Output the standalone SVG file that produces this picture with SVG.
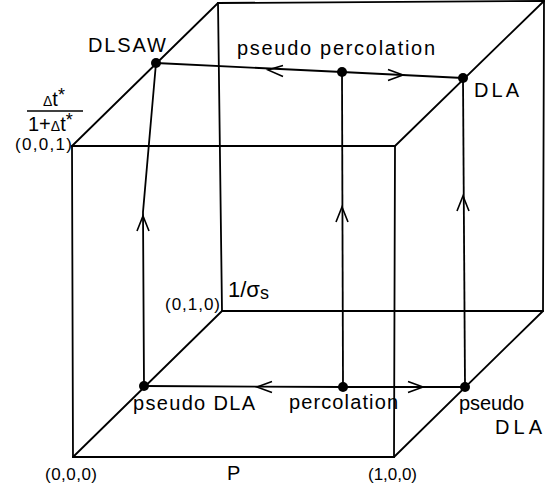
<svg xmlns="http://www.w3.org/2000/svg" width="546" height="490" viewBox="0 0 546 490">
<style>
.edge{stroke:#000;stroke-width:1.8;fill:none;stroke-linecap:round}
.flow{stroke:#000;stroke-width:1.8;fill:none}
.ah{stroke:#000;stroke-width:1.6;fill:none;stroke-linejoin:miter}
.dot{fill:#000}
text{font-family:"Liberation Sans","DejaVu Sans",sans-serif;fill:#000}
.lbl{font-size:20px}
.crd{font-size:17px}
</style>
<rect width="546" height="490" fill="#fff"/>
<g id="cube">
<line class="edge" x1="72" y1="146" x2="395" y2="146"/>
<line class="edge" x1="72" y1="146" x2="73" y2="457"/>
<line class="edge" x1="73" y1="457" x2="394" y2="457"/>
<line class="edge" x1="395" y1="146" x2="394" y2="457"/>
<line class="edge" x1="218" y1="3" x2="544" y2="1"/>
<line class="edge" x1="218" y1="3" x2="222" y2="311"/>
<line class="edge" x1="222" y1="311" x2="543" y2="311"/>
<line class="edge" x1="544" y1="1" x2="543" y2="311"/>
<line class="edge" x1="72" y1="146" x2="218" y2="3"/>
<line class="edge" x1="395" y1="146" x2="544" y2="1"/>
<line class="edge" x1="73" y1="457" x2="222" y2="311"/>
<line class="edge" x1="394" y1="457" x2="543" y2="311"/>
</g>
<g id="connectors">
<polyline class="flow" points="156,63 342,72 463,78"/>
<polyline class="flow" points="144,386 343,387 465,387"/>
<polyline class="flow" points="156,63 143,212 144,386"/>
<line class="flow" x1="342" y1="72" x2="343" y2="387"/>
<line class="flow" x1="463" y1="78" x2="465" y2="387"/>
<polyline class="ah" points="283,65.5 268,70 283,76.5"/>
<polyline class="ah" points="388,69.5 403,75 388,80.5"/>
<polyline class="ah" points="272,381.5 257,387 272,392.5"/>
<polyline class="ah" points="408,381.5 423,387 408,392.5"/>
<polyline class="ah" points="137,231 143,216 149,231"/>
<polyline class="ah" points="336,222 342,207 348,222"/>
<polyline class="ah" points="457,211 463,196 469,211"/>
</g>
<g id="node-dlsaw">
<circle class="dot" cx="156" cy="63" r="5"/>
<text class="lbl" x="88" y="52" textLength="78" lengthAdjust="spacing">DLSAW</text>
</g>
<g id="node-pseudo-percolation">
<circle class="dot" cx="342" cy="72" r="5"/>
<text class="lbl" x="237" y="55" textLength="198" lengthAdjust="spacing">pseudo percolation</text>
</g>
<g id="node-dla">
<circle class="dot" cx="463" cy="78" r="5"/>
<text class="lbl" x="474" y="97" textLength="45" lengthAdjust="spacing">DLA</text>
</g>
<g id="node-pseudo-dla-left">
<circle class="dot" cx="144" cy="386" r="5"/>
<text class="lbl" x="133" y="410" textLength="122" lengthAdjust="spacing">pseudo DLA</text>
</g>
<g id="node-percolation">
<circle class="dot" cx="343" cy="387" r="5"/>
<text class="lbl" x="289" y="409" textLength="109" lengthAdjust="spacing">percolation</text>
</g>
<g id="node-pseudo-dla-right">
<circle class="dot" cx="465" cy="387" r="5"/>
<text class="lbl" x="459" y="410" textLength="65" lengthAdjust="spacing">pseudo</text>
<text class="lbl" x="495" y="434" textLength="47" lengthAdjust="spacing">DLA</text>
</g>
<g id="axis-labels">
<text class="crd" x="15" y="150" textLength="57" lengthAdjust="spacing">(0,0,1)</text>
<text class="crd" x="165" y="310" textLength="55" lengthAdjust="spacing">(0,1,0)</text>
<text class="crd" x="45" y="480" textLength="52" lengthAdjust="spacing">(0,0,0)</text>
<text class="crd" x="368" y="480" textLength="49" lengthAdjust="spacing">(1,0,0)</text>
<text class="lbl" x="227" y="480">P</text>
<text x="228" y="297" font-size="22">1/σ<tspan font-size="18" dy="2">s</tspan></text>
<text x="43" y="106" font-size="20"><tspan font-size="14">Δ</tspan>t<tspan dy="-5" font-size="18">*</tspan></text>
<line x1="27" y1="111" x2="83" y2="111" stroke="#000" stroke-width="1.5"/>
<text x="28" y="131" font-size="20">1+<tspan font-size="14">Δ</tspan>t<tspan dy="-5" font-size="18">*</tspan></text>
</g>
</svg>
